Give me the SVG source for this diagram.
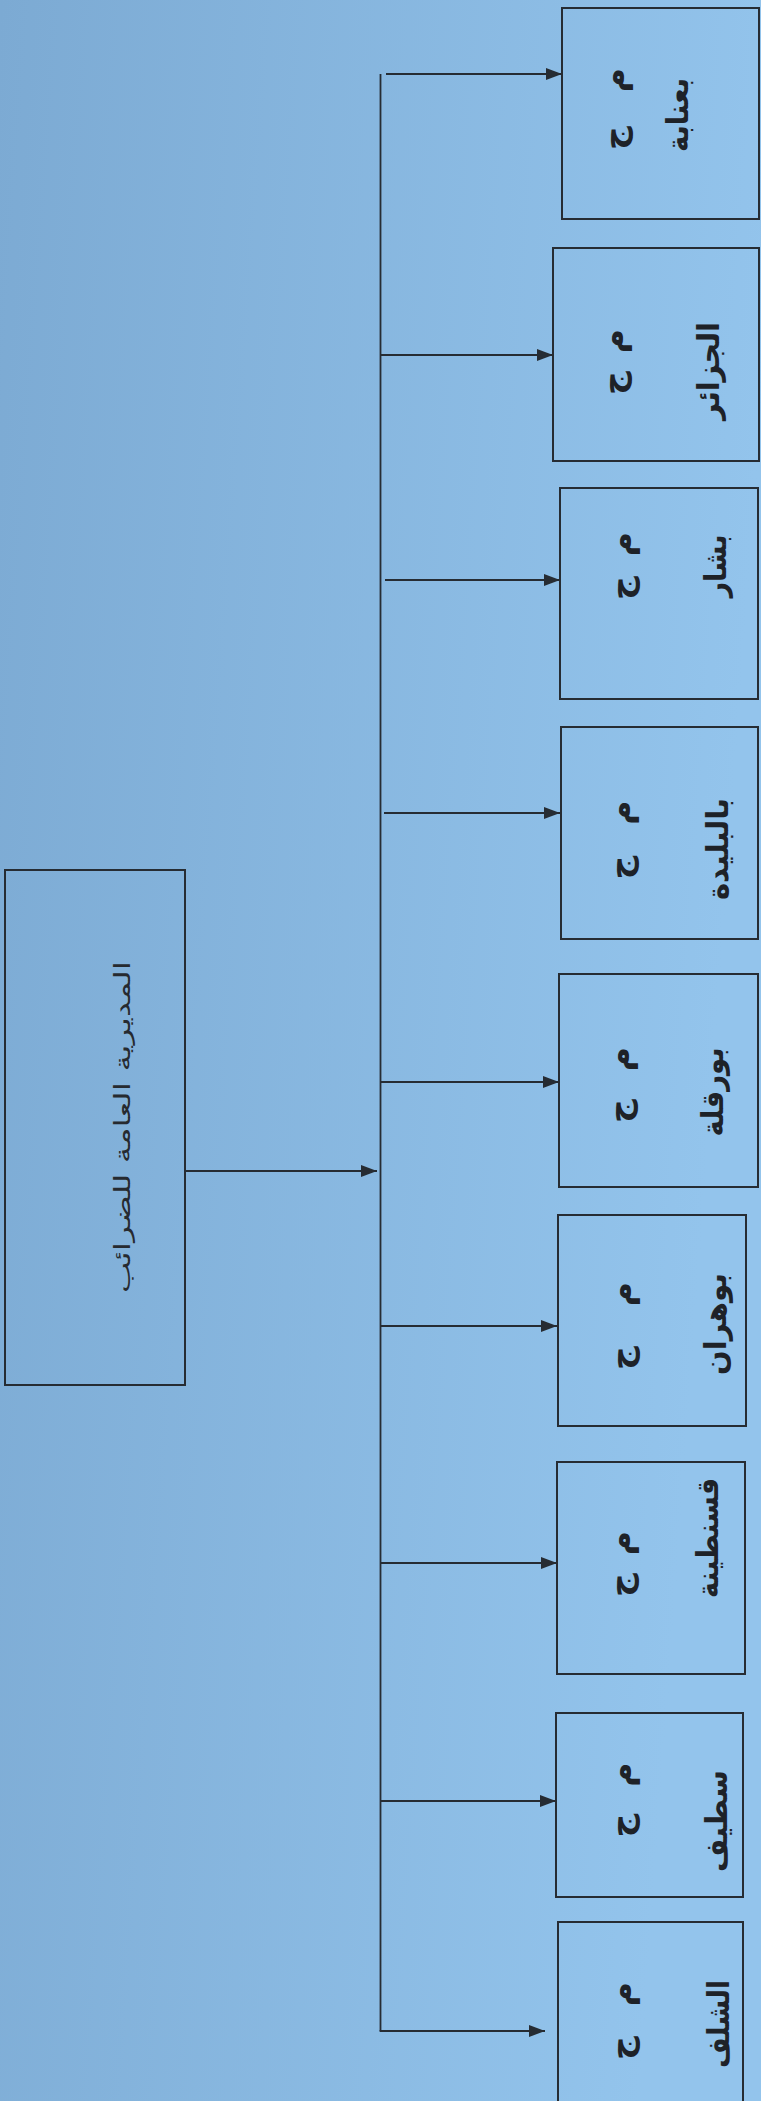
<svg xmlns="http://www.w3.org/2000/svg" width="761" height="2101" viewBox="0 0 761 2101">
<defs>
<linearGradient id="bg" x1="0" y1="0" x2="1" y2="0.2">
<stop offset="0" stop-color="#7caad3"/>
<stop offset="1" stop-color="#93c4ec"/>
</linearGradient>
<marker id="ah" viewBox="0 0 16 12" refX="16" refY="6" markerWidth="16" markerHeight="12" markerUnits="userSpaceOnUse" orient="auto">
<path d="M0,0 L16,6 L0,12 z" fill="#262c33"/>
</marker>
<style>
.box{fill:none;stroke:#262c33;stroke-width:2}
.ln{fill:none;stroke:#262c33;stroke-width:1.8}
.t1{font-family:"DejaVu Sans",sans-serif;font-weight:bold;font-size:33px;fill:#1e2228;dominant-baseline:central;text-anchor:middle}
.t2{font-family:"DejaVu Sans",sans-serif;font-weight:bold;font-size:30px;fill:#1e2228;dominant-baseline:central;text-anchor:middle}
.tm{font-family:"DejaVu Sans",sans-serif;font-size:22px;fill:#262a30;dominant-baseline:central;text-anchor:middle}
</style>
</defs>
<rect x="0" y="0" width="761" height="2101" fill="url(#bg)"/>

<g id="connectors">
<line class="ln" x1="185" y1="1171" x2="377" y2="1171" marker-end="url(#ah)"/>
<line class="ln" x1="380.5" y1="74" x2="380.5" y2="2031"/>
<line class="ln" x1="386" y1="74" x2="562" y2="74" marker-end="url(#ah)"/>
<line class="ln" x1="380.5" y1="355" x2="553" y2="355" marker-end="url(#ah)"/>
<line class="ln" x1="385" y1="580" x2="560" y2="580" marker-end="url(#ah)"/>
<line class="ln" x1="384" y1="813" x2="560" y2="813" marker-end="url(#ah)"/>
<line class="ln" x1="380.5" y1="1082" x2="559" y2="1082" marker-end="url(#ah)"/>
<line class="ln" x1="380.5" y1="1326" x2="557" y2="1326" marker-end="url(#ah)"/>
<line class="ln" x1="380.5" y1="1563" x2="557" y2="1563" marker-end="url(#ah)"/>
<line class="ln" x1="380.5" y1="1801" x2="556" y2="1801" marker-end="url(#ah)"/>
<line class="ln" x1="379.6" y1="2031" x2="545" y2="2031" marker-end="url(#ah)"/>
</g>

<g id="main">
<rect class="box" x="5" y="870" width="180" height="515"/>
<text class="tm" transform="translate(122,1127) rotate(-90)" textLength="332" lengthAdjust="spacingAndGlyphs">المديرية العامة للضرائب</text>
</g>

<g id="annaba">
<rect class="box" x="562" y="8" width="197" height="211"/>
<text class="t1" transform="translate(613,109) rotate(-90)" textLength="82" lengthAdjust="spacing">م ج</text>
<text class="t2" transform="translate(677,115) rotate(-90)" textLength="74" lengthAdjust="spacingAndGlyphs">بعنابة</text>
</g>

<g id="alger">
<rect class="box" x="553" y="248" width="206" height="213"/>
<text class="t1" transform="translate(612,362) rotate(-90)" textLength="66" lengthAdjust="spacing">م ج</text>
<text class="t2" transform="translate(708,371) rotate(-90)" textLength="98" lengthAdjust="spacingAndGlyphs">الجزائر</text>
</g>

<g id="bechar">
<rect class="box" x="560" y="488" width="198" height="211"/>
<text class="t1" transform="translate(620,566) rotate(-90)" textLength="68" lengthAdjust="spacing">م ج</text>
<text class="t2" transform="translate(715,566) rotate(-90)" textLength="63" lengthAdjust="spacingAndGlyphs">بشار</text>
</g>

<g id="blida">
<rect class="box" x="561" y="727" width="197" height="212"/>
<text class="t1" transform="translate(619,840) rotate(-90)" textLength="79" lengthAdjust="spacing">م ج</text>
<text class="t2" transform="translate(717,849) rotate(-90)" textLength="102" lengthAdjust="spacingAndGlyphs">بالبليدة</text>
</g>

<g id="ouargla">
<rect class="box" x="559" y="974" width="199" height="213"/>
<text class="t1" transform="translate(618,1085) rotate(-90)" textLength="76" lengthAdjust="spacing">م ج</text>
<text class="t2" transform="translate(712,1092) rotate(-90)" textLength="89" lengthAdjust="spacingAndGlyphs">بورقلة</text>
</g>

<g id="oran">
<rect class="box" x="558" y="1215" width="188" height="211"/>
<text class="t1" transform="translate(620,1326) rotate(-90)" textLength="88" lengthAdjust="spacing">م ج</text>
<text class="t2" transform="translate(715,1324) rotate(-90)" textLength="102" lengthAdjust="spacingAndGlyphs">بوهران</text>
</g>

<g id="constantine">
<rect class="box" x="557" y="1462" width="188" height="212"/>
<text class="t1" transform="translate(619,1564) rotate(-90)" textLength="66" lengthAdjust="spacing">م ج</text>
<text class="t2" transform="translate(707,1538) rotate(-90)" textLength="120" lengthAdjust="spacingAndGlyphs">قسنطينة</text>
</g>

<g id="setif">
<rect class="box" x="556" y="1713" width="187" height="184"/>
<text class="t1" transform="translate(620,1800) rotate(-90)" textLength="75" lengthAdjust="spacing">م ج</text>
<text class="t2" transform="translate(716,1821) rotate(-90)" textLength="102" lengthAdjust="spacingAndGlyphs">سطيف</text>
</g>

<g id="chlef">
<rect class="box" x="558" y="1922" width="185" height="200"/>
<text class="t1" transform="translate(620,2021) rotate(-90)" textLength="78" lengthAdjust="spacing">م ج</text>
<text class="t2" transform="translate(718,2024) rotate(-90)" textLength="88" lengthAdjust="spacingAndGlyphs">الشلف</text>
</g>
</svg>
